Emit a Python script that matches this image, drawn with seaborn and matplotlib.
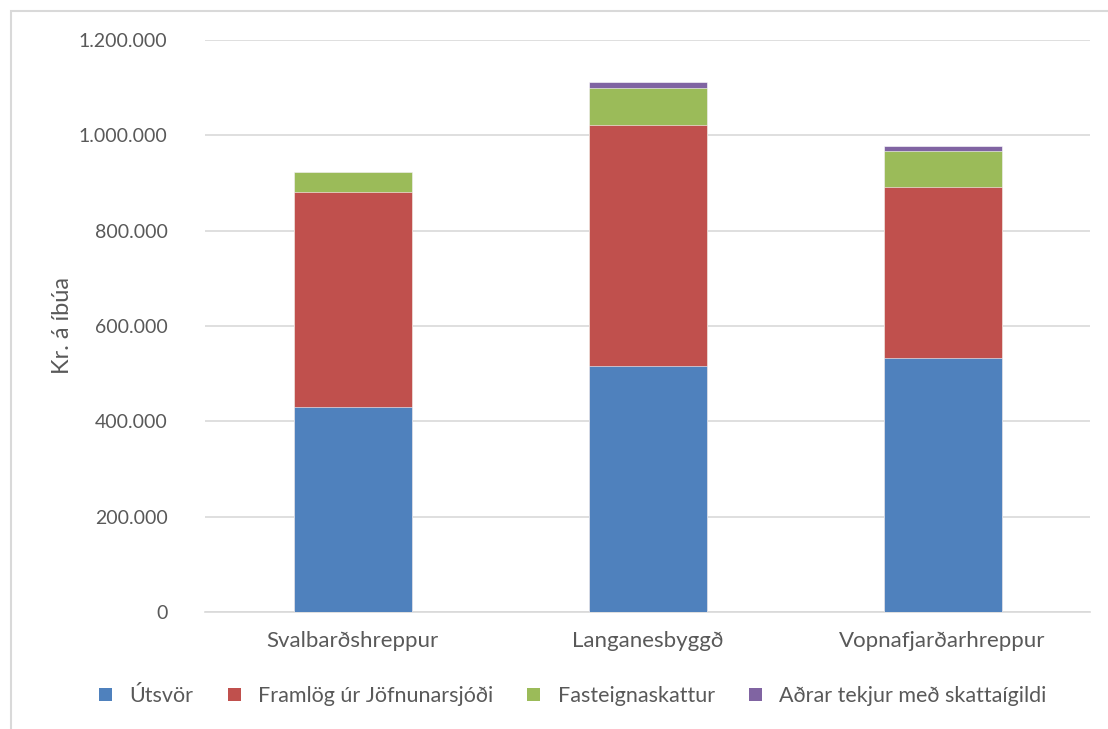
import matplotlib
matplotlib.use('Agg')
import matplotlib.pyplot as plt
import matplotlib.ticker as mticker
from matplotlib.patches import Rectangle, Patch
import seaborn as sns
import numpy as np
import pandas as pd

municipalities = ['Svalbarðshreppur', 'Langanesbyggð', 'Vopnafjarðarhreppur']
series_names = ['Útsvör', 'Framlög úr Jöfnunarsjóði', 'Fasteignaskattur',
                'Aðrar tekjur með skattaígildi']
utsvor = [430000, 515500, 532000]
jofnunarsjodur = [452000, 506000, 359000]
fasteignaskattur = [42000, 78500, 76000]
adrar_tekjur = [0, 12500, 10000]
colors = ['#4f81bd', '#c0504d', '#9bbb59', '#8064a2']
y_ticks = [0, 200000, 400000, 600000, 800000, 1000000, 1200000]

sns.set_style('white')
plt.rcParams['font.family'] = ['Lato', 'DejaVu Sans']

layers = [utsvor, jofnunarsjodur, fasteignaskattur, adrar_tekjur]
cumulative = np.cumsum(np.array(layers), axis=0)

fig = plt.figure(figsize=(11.08, 7.29), dpi=100)
ax = fig.add_axes([205 / 1108, 1 - 612 / 729, 885 / 1108, 572 / 729])

# draw cumulative totals from the top layer down so each one covers the next
for i in reversed(range(len(layers))):
    frame = pd.DataFrame({'kommune': municipalities, 'value': cumulative[i]})
    sns.barplot(data=frame, x='kommune', y='value', color=colors[i],
                width=0.4, saturation=1, ax=ax, zorder=3,
                edgecolor='white', linewidth=0.4)

ax.set_ylim(0, 1200000)
ax.set_xlim(-0.5, 2.5)
ax.set_yticks(y_ticks)
ax.yaxis.set_major_formatter(mticker.FuncFormatter(
    lambda v, p: f'{int(v):,}'.replace(',', '.')))
ax.grid(axis='y', color='#d9d9d9', linewidth=1.2, zorder=0)
for side in ['top', 'right', 'left']:
    ax.spines[side].set_visible(False)
ax.spines['bottom'].set_color('#d9d9d9')
ax.spines['bottom'].set_linewidth(1.2)
ax.tick_params(axis='y', length=0, labelsize=14, colors='#595959', pad=27)
ax.tick_params(axis='x', length=0, labelsize=16, colors='#595959', pad=14)
ax.set_xlabel('')
ax.set_ylabel('Kr. á íbúa', fontsize=17, color='#595959', labelpad=4)

handles = [Patch(facecolor=c, edgecolor='none') for c in colors]
fig.legend(handles, series_names, loc='center', bbox_to_anchor=(0.517, 1 - 696 / 729),
           ncol=4, frameon=False, fontsize=15.5, labelcolor='#595959',
           handlelength=0.6, handleheight=0.6, handletextpad=0.8, columnspacing=1.6)

fig.patches.append(Rectangle((11 / 1108, -0.1), 1.2, 1.1 - 11 / 729,
                             transform=fig.transFigure, fill=False,
                             edgecolor='#d9d9d9', linewidth=1.5))

fig.savefig('out.png', dpi=100)
